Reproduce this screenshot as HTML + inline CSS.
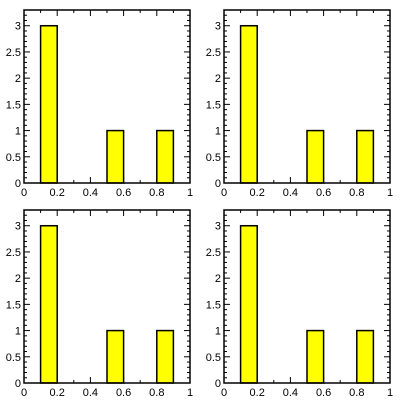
<!DOCTYPE html>
<html><head><meta charset="utf-8"><style>body{margin:0;background:#fff}svg{display:block}text{font-family:"Liberation Sans",sans-serif;font-size:11px;fill:#000}</style></head>
<body>
<svg id="c" width="400" height="400"></svg>
<script>
const binStarts=[0.1,0.5,0.8];
const binWidth=0.1;
const counts=[3,1,1];
const xTicks=[0,0.2,0.4,0.6,0.8,1];
const xTickLabels=["0","0.2","0.4","0.6","0.8","1"];
const yTicks=[0,0.5,1,1.5,2,2.5,3];
const yTickLabels=["0","0.5","1","1.5","2","2.5","3"];
const yMax=3.3;
const svg=document.getElementById('c');
const NS='http://www.w3.org/2000/svg';
function mk(t,a,p){const e=document.createElementNS(NS,t);for(const k in a)e.setAttribute(k,a[k]);p.appendChild(e);return e;}
const panels=[[0,0],[200,0],[0,200],[200,200]];
panels.forEach((o,pi)=>{
  const L=o[0]+24,R=o[0]+190,T=o[1]+10,B=o[1]+183;
  const g=mk('g',{},svg);
  
  
  const sx=v=>L+v*(R-L), sy=v=>B-v/yMax*(B-T);
  counts.forEach((c,i)=>{
    const r=mk('rect',{x:sx(binStarts[i]),y:sy(c),width:sx(binStarts[i]+binWidth)-sx(binStarts[i]),height:B-sy(c),fill:'#ffff00',stroke:'#000','stroke-width':1.5},g);
    
    
  });
  for(let k=0;k<=10;k++){const v=k/10,x=sx(v);const len=k%2==0?6:3;
    mk('line',{x1:x,x2:x,y1:B,y2:B-len,stroke:'#000'},g);mk('line',{x1:x,x2:x,y1:T,y2:T+len,stroke:'#000'},g);}
  for(let k=0;k<=33;k++){const v=k/10,y=sy(v);const len=k%5==0?6:3;
    mk('line',{x1:L,x2:L+len,y1:y,y2:y,stroke:'#000'},g);mk('line',{x1:R,x2:R-len,y1:y,y2:y,stroke:'#000'},g);}
  const f=mk('rect',{x:L,y:T,width:R-L,height:B-T,fill:'none',stroke:'#000','stroke-width':1.5},g);
  
  
  xTicks.forEach((v,i)=>{const t=mk('text',{x:sx(v),y:B+13,'text-anchor':'middle'},g);t.textContent=xTickLabels[i];
    
    });
  yTicks.forEach((v,i)=>{const t=mk('text',{x:L-3,y:sy(v)+4,'text-anchor':'end'},g);t.textContent=yTickLabels[i];
    
    });
});
</script>
</body></html>
